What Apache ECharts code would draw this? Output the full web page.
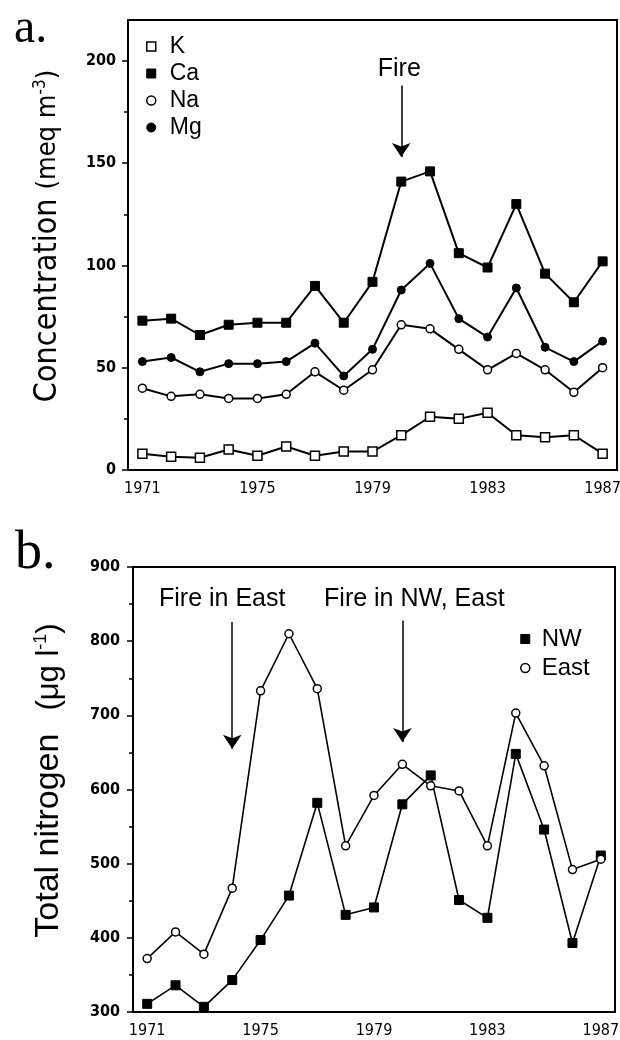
<!DOCTYPE html>
<html><head><meta charset="utf-8">
<script src="https://cdn.jsdelivr.net/npm/echarts@6/dist/echarts.min.js"></script>
<style>html,body{margin:0;padding:0;background:#fff}#c{width:620px;height:1040px}</style>
</head><body><div id="c"></div>
<script>
// ---- data ----
const years = ['1971','1972','1973','1974','1975','1976','1977','1978','1979','1980','1981','1982','1983','1984','1985','1986','1987'];
const kVals  = [8, 6.5, 6, 10, 7, 11.5, 7, 9, 9, 17, 26, 25, 28, 17, 16, 17, 8];
const caVals = [73, 74, 66, 71, 72, 72, 90, 72, 92, 141, 146, 106, 99, 130, 96, 82, 102];
const naVals = [40, 36, 37, 35, 35, 37, 48, 39, 49, 71, 69, 59, 49, 57, 49, 38, 50];
const mgVals = [53, 55, 48, 52, 52, 53, 62, 46, 59, 88, 101, 74, 65, 89, 60, 53, 63];
const nwVals   = [311, 336, 307, 343, 397, 457, 582, 431, 441, 580, 619, 451, 427, 648, 546, 393, 511];
const eastVals = [372, 408, 378, 467, 733, 810, 736, 524, 592, 634, 605, 598, 524, 703, 632, 492, 506];
const concMajorTicks = [0, 50, 100, 150, 200];
const concMinorTicks = [25, 75, 125, 175];
const concRange = [0, 220];
const nitroRange = [300, 900];
// annotations (data coordinates)
const fireA = {year: '1980', from: 188, to: 153, textY: 196, text: 'Fire'};
const fireB1 = {year: '1974', from: 826, to: 655, textY: 857, text: 'Fire in East'};
const fireB2 = {year: '1980', from: 828, to: 664, textY: 857, text: 'Fire in NW, East'};

// ---- styles ----
const SANS = "'Liberation Sans', Arial, sans-serif";
const NARROW = "'Liberation Sans Narrow', 'DejaVu Sans Condensed', 'Liberation Sans', sans-serif";
const BLACK = '#000';
const openStyle = {color: '#fff', borderColor: BLACK, borderWidth: 1.5};
const fillStyle = {color: BLACK, borderColor: BLACK, borderWidth: 1};

function xAxis(grid) {
  return {
    type: 'category', gridIndex: grid, data: years, boundaryGap: true,
    axisLine: {lineStyle: {color: BLACK, width: 2}},
    axisTick: {alignWithLabel: true, interval: 0, length: 6, lineStyle: {color: BLACK, width: 1.5}},
    axisLabel: {interval: 3, margin: 11, color: BLACK, fontSize: 16, fontFamily: NARROW}
  };
}
function lineSeries(name, data, symbol, open, xi, yi, size) {
  return {
    name, type: 'line', data, xAxisIndex: xi, yAxisIndex: yi,
    symbol, symbolSize: size, showAllSymbol: true,
    lineStyle: {color: BLACK, width: 2},
    itemStyle: open ? openStyle : fillStyle,
    emphasis: {disabled: true}, z: 3
  };
}

const chart = echarts.init(document.getElementById('c'), null, {renderer: 'canvas'});
const textLabel = {show: true, position: 'inside', formatter: '{b}', color: BLACK, fontSize: 25, fontFamily: SANS};
const hiddenPt = {symbol: 'rect', symbolSize: 1, itemStyle: {color: 'rgba(0,0,0,0)'}};
const arrowLine = {silent: true, symbol: ['none', 'arrow'], symbolSize: 14, label: {show: false},
  lineStyle: {color: BLACK, width: 1.5, type: 'solid'}, emphasis: {disabled: true}};

const caSeries = lineSeries('Ca', caVals, 'rect', false, 0, 0, 9);
caSeries.markLine = Object.assign({}, arrowLine, {data: [[{coord: [fireA.year, fireA.from]}, {coord: [fireA.year, fireA.to]}]]});
caSeries.markPoint = Object.assign({silent: true, label: textLabel}, hiddenPt,
  {data: [{name: fireA.text, coord: [fireA.year, fireA.textY], label: {offset: [-2, 0]}}]});

const eastSeries = lineSeries('East', eastVals, 'circle', true, 1, 2, 8);
eastSeries.lineStyle.width = 1.6;
eastSeries.markLine = Object.assign({}, arrowLine, {data: [
  [{coord: [fireB1.year, fireB1.from]}, {coord: [fireB1.year, fireB1.to]}],
  [{coord: [fireB2.year, fireB2.from]}, {coord: [fireB2.year, fireB2.to]}]
]});
eastSeries.markPoint = Object.assign({silent: true, label: textLabel}, hiddenPt, {data: [
  {name: fireB1.text, coord: [fireB1.year, fireB1.textY], label: {offset: [-10, 0]}},
  {name: fireB2.text, coord: [fireB2.year, fireB2.textY], label: {offset: [12, 0]}}
]});
const nwSeries = lineSeries('NW', nwVals, 'rect', false, 1, 2, 9);
nwSeries.lineStyle.width = 1.6;

const titleA = {color: BLACK, fontSize: 16, fontFamily: NARROW, padding: [0, 0, 0, 18],
  rich: {
    c: {fontSize: 32, fontFamily: NARROW, color: BLACK},
    g: {width: 9},
    p: {fontSize: 27, fontFamily: NARROW, color: BLACK},
    sup: {fontSize: 17, fontFamily: NARROW, color: BLACK, padding: [0, 0, 14, 0]}
  }};
const titleB = {color: BLACK, fontSize: 16, fontFamily: SANS, padding: [0, 0, 0, 18],
  rich: {
    c: {fontSize: 34, fontFamily: SANS, color: BLACK},
    g: {width: 23},
    p: {fontSize: 31, fontFamily: SANS, color: BLACK},
    sup: {fontSize: 18, fontFamily: SANS, color: BLACK, padding: [0, 0, 15, 0]}
  }};

const option = {
  animation: false,
  backgroundColor: '#fff',
  grid: [
    {left: 128, right: 3, top: 20, height: 450, show: true, borderColor: BLACK, borderWidth: 2,
     backgroundColor: 'transparent', outerBoundsMode: 'none', containLabel: false},
    {left: 133, right: 5, top: 567, height: 445, show: true, borderColor: BLACK, borderWidth: 2,
     backgroundColor: 'transparent', outerBoundsMode: 'none', containLabel: false}
  ],
  xAxis: [xAxis(0), xAxis(1)],
  yAxis: [
    {type: 'value', gridIndex: 0, position: 'left', min: concRange[0], max: concRange[1],
     splitLine: {show: false},
     axisLine: {show: true, lineStyle: {color: BLACK, width: 2}},
     axisTick: {show: true, length: 6, customValues: concMajorTicks, lineStyle: {color: BLACK, width: 1.5}},
     axisLabel: {customValues: concMajorTicks, margin: 12, color: BLACK, fontSize: 16, fontWeight: 'bold', fontFamily: NARROW},
     name: '{c|Concentration}{g| }{p|(meq m}{sup|-3}{p|)}', nameLocation: 'middle', nameRotate: 90, nameGap: 64,
     nameTextStyle: titleA},
    {type: 'value', gridIndex: 0, position: 'left', min: concRange[0], max: concRange[1],
     splitLine: {show: false}, axisLine: {show: false}, axisLabel: {show: false},
     axisTick: {show: true, length: 4, customValues: concMinorTicks, lineStyle: {color: BLACK, width: 1.5}}},
    {type: 'value', gridIndex: 1, position: 'left', min: nitroRange[0], max: nitroRange[1], interval: 100,
     splitLine: {show: false},
     axisLine: {show: true, lineStyle: {color: BLACK, width: 2}},
     axisTick: {show: true, length: 6, lineStyle: {color: BLACK, width: 1.5}},
     minorTick: {show: true, splitNumber: 2, length: 4, lineStyle: {color: BLACK, width: 1.5}},
     minorSplitLine: {show: false},
     axisLabel: {margin: 13, color: BLACK, fontSize: 16, fontWeight: 'bold', fontFamily: NARROW},
     name: '{c|Total nitrogen}{g| }{p|(\u03bcg l}{sup|-1}{p|)}', nameLocation: 'middle', nameRotate: 90, nameGap: 67,
     nameTextStyle: titleB}
  ],
  legend: [
    {orient: 'vertical', left: 141, top: 30, itemWidth: 9, itemHeight: 9, itemGap: 4,
     textStyle: {color: BLACK, fontSize: 23, fontFamily: SANS, lineHeight: 21, padding: [0, 0, 0, 9]},
     selectedMode: false,
     data: [
       {name: 'K', icon: 'rect', itemStyle: openStyle},
       {name: 'Ca', icon: 'rect', itemStyle: fillStyle},
       {name: 'Na', icon: 'circle', itemStyle: openStyle},
       {name: 'Mg', icon: 'circle', itemStyle: fillStyle}
     ]},
    {orient: 'vertical', left: 515, top: 622, itemWidth: 9, itemHeight: 9, itemGap: 5,
     textStyle: {color: BLACK, fontSize: 24, fontFamily: SANS, lineHeight: 23, padding: [0, 0, 0, 7]},
     selectedMode: false,
     data: [
       {name: 'NW', icon: 'rect', itemStyle: fillStyle},
       {name: 'East', icon: 'circle', itemStyle: openStyle}
     ]}
  ],
  graphic: [
    {type: 'text', left: 14, top: 5, style: {text: 'a.', fill: BLACK, font: '48px "Liberation Serif", serif'}},
    {type: 'text', left: 15, top: 527, style: {text: 'b.', fill: BLACK, font: '54px "Liberation Serif", serif'}}
  ],
  series: [
    lineSeries('K', kVals, 'rect', true, 0, 0, 9),
    caSeries,
    lineSeries('Na', naVals, 'circle', true, 0, 0, 8),
    lineSeries('Mg', mgVals, 'circle', false, 0, 0, 8),
    nwSeries,
    eastSeries
  ]
};
chart.setOption(option);
</script>
</body></html>
